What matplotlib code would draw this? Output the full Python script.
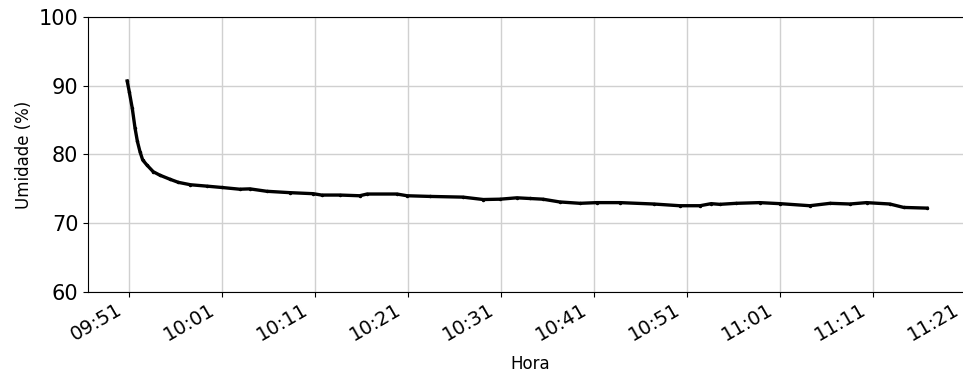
import matplotlib
matplotlib.use("Agg")
import matplotlib.pyplot as plt
import matplotlib.dates as mdates
import matplotlib.transforms as mtransforms
import pandas as pd

# minutes after 09:51 and relative humidity readings
minutos = [-0.2, 0.03, 0.35, 0.65, 0.9, 1.18, 1.47, 1.9, 2.6, 3.3, 4.4, 5.3,
           6.6, 8.35, 10.0, 11.9, 13.0, 14.8, 17.3, 19.8, 20.7, 22.7, 24.8,
           25.6, 28.8, 29.9, 32.4, 35.9, 38.1, 39.9, 41.7, 43.1, 44.5, 46.3,
           48.5, 50.3, 52.8, 56.4, 59.2, 61.4, 62.6, 63.5, 65.3, 67.8, 70.0,
           73.2, 75.4, 77.5, 79.3, 81.8, 83.3, 85.8]
umidade = [90.7, 89.1, 86.7, 83.8, 81.9, 80.4, 79.2, 78.5, 77.5, 77.0, 76.4,
           75.95, 75.6, 75.4, 75.2, 74.95, 75.0, 74.65, 74.45, 74.3, 74.1,
           74.1, 74.0, 74.25, 74.25, 74.0, 73.9, 73.8, 73.45, 73.5, 73.7,
           73.6, 73.5, 73.1, 72.9, 73.0, 73.0, 72.8, 72.55, 72.55, 72.85,
           72.75, 72.9, 73.0, 72.85, 72.55, 72.9, 72.8, 73.0, 72.8, 72.3, 72.2]

inicio = pd.Timestamp("2021-01-01 09:51:00")
hora = [inicio + pd.Timedelta(minutes=m) for m in minutos]

fig = plt.figure(figsize=(9.63, 3.76), dpi=100)
ax = fig.add_axes([0.0914, 0.2234, 0.919, 0.7314])

ax.plot(hora, umidade, color="black", marker=".", markersize=3,
        linewidth=2.4, zorder=3)

ax.set_xlim(inicio - pd.Timedelta(minutes=4.41), inicio + pd.Timedelta(minutes=90.75))
ax.set_ylim(60, 100)
ax.set_yticks([60, 70, 80, 90, 100])
ax.xaxis.set_major_locator(mdates.MinuteLocator(byminute=[1, 11, 21, 31, 41, 51]))
ax.xaxis.set_major_formatter(mdates.DateFormatter("%H:%M"))
ax.tick_params(axis="y", labelsize=15)
ax.tick_params(axis="x", labelsize=14, pad=2)
shift = mtransforms.ScaledTranslation(-4 / 100, 0, fig.dpi_scale_trans)
for lbl in ax.get_xticklabels():
    lbl.set_rotation(30)
    lbl.set_ha("right")
    lbl.set_transform(lbl.get_transform() + shift)

ax.grid(True, color="#d0d0d0", linewidth=1)
ax.set_axisbelow(True)
ax.set_xlabel("Hora", fontsize=12, labelpad=8)
ax.set_ylabel("Umidade (%)", fontsize=12)

fig.savefig("out.png", dpi=100)
